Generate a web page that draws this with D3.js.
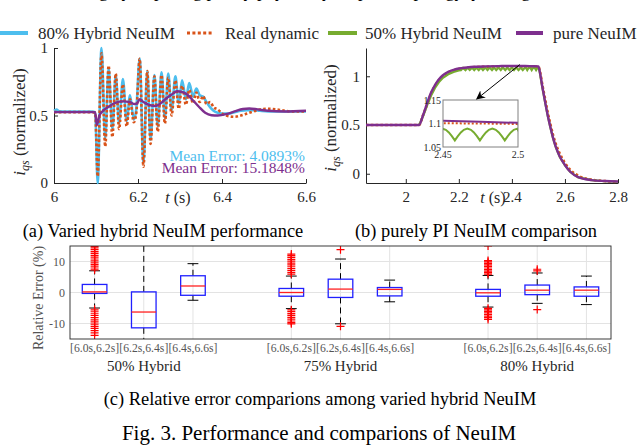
<!DOCTYPE html>
<html>
<head>
<meta charset="utf-8">
<script src="https://cdn.jsdelivr.net/npm/d3@7"></script>
<style>
body { margin: 0; background: #fff; }
svg { display: block; }
</style>
</head>
<body>
<script>
// ---- data ----
var seriesNames = ["80% Hybrid NeuIM", "Real dynamic", "50% Hybrid NeuIM", "pure NeuIM"];
var seriesColors = ["#4DBEEE", "#D95319", "#77AC30", "#7E2F8E"];

// (a) varied hybrid NeuIM, t in s
var tA = [6.000, 6.006, 6.012, 6.030, 6.060, 6.090, 6.098,
  6.104, 6.113, 6.122, 6.130, 6.139, 6.147, 6.155, 6.164, 6.173, 6.181,
  6.190, 6.196, 6.204, 6.213, 6.222, 6.230, 6.239, 6.247, 6.256, 6.264,
  6.272, 6.280, 6.289, 6.297, 6.305, 6.314, 6.322, 6.331, 6.339, 6.347,
  6.355, 6.363, 6.372, 6.380, 6.390, 6.400, 6.415, 6.430, 6.445, 6.460,
  6.475, 6.490, 6.510, 6.530, 6.550, 6.570, 6.600];
var hybrid80A = [0.535, 0.545, 0.532, 0.53, 0.53, 0.53, 0.525,
  0.0, 1.0, 0.33, 0.85, 0.40, 0.80, 0.44, 0.77, 0.46, 0.65,
  0.47, 0.55, 0.92, 0.15, 0.83, 0.32, 0.80, 0.42, 0.82, 0.48,
  0.81, 0.54, 0.79, 0.59, 0.76, 0.62, 0.74, 0.64, 0.70, 0.65,
  0.64, 0.60, 0.56, 0.535, 0.52, 0.515, 0.515, 0.525, 0.535, 0.54,
  0.54, 0.535, 0.53, 0.53, 0.53, 0.53, 0.53];
var realA = [0.525, 0.525, 0.525, 0.525, 0.525, 0.525, 0.52,
  0.05, 0.96, 0.27, 0.87, 0.34, 0.81, 0.40, 0.73, 0.42, 0.62,
  0.45, 0.52, 0.92, 0.12, 0.83, 0.29, 0.79, 0.38, 0.80, 0.44,
  0.78, 0.50, 0.76, 0.55, 0.72, 0.58, 0.69, 0.59, 0.67, 0.60,
  0.645, 0.585, 0.60, 0.56, 0.545, 0.515, 0.495, 0.49, 0.50, 0.515,
  0.53, 0.545, 0.55, 0.545, 0.535, 0.53, 0.53];
var tPureA = [6.000, 6.098, 6.102, 6.108, 6.115, 6.130, 6.147, 6.165, 6.180, 6.192,
  6.198, 6.204, 6.213, 6.225, 6.240, 6.252, 6.265, 6.280, 6.293, 6.305,
  6.317, 6.330, 6.345, 6.360, 6.375, 6.390, 6.410, 6.430, 6.450, 6.465,
  6.485, 6.510, 6.550, 6.600];
var pureA = [0.525, 0.525, 0.43, 0.50, 0.53, 0.565, 0.595, 0.605, 0.60, 0.585,
  0.59, 0.62, 0.60, 0.58, 0.57, 0.585, 0.62, 0.655, 0.68, 0.675,
  0.655, 0.615, 0.565, 0.52, 0.502, 0.50, 0.51, 0.53, 0.548, 0.552,
  0.545, 0.535, 0.53, 0.535];
var meanErrors = ["Mean Error: 4.0893%", "Mean Error: 15.1848%"];

// (b) purely PI NeuIM comparison
var tB = [1.85, 2.05, 2.065, 2.08, 2.095, 2.11, 2.125, 2.14, 2.16, 2.18,
  2.20, 2.23, 2.26, 2.30, 2.35, 2.40, 2.45, 2.475, 2.50, 2.505,
  2.515, 2.525, 2.535, 2.545, 2.555, 2.565, 2.58, 2.60, 2.62, 2.65,
  2.70, 2.75, 2.80];
var pureB = [0.5, 0.5, 0.6, 0.72, 0.83, 0.91, 0.97, 1.01, 1.045, 1.065,
  1.08, 1.09, 1.097, 1.101, 1.104, 1.106, 1.1056, 1.1035, 1.1014, 1.05,
  0.89, 0.74, 0.60, 0.48, 0.37, 0.28, 0.18, 0.09, 0.02, -0.035,
  -0.065, -0.075, -0.08];
var realB = [0.5, 0.5, 0.6, 0.71, 0.82, 0.90, 0.96, 1.0, 1.04, 1.06,
  1.075, 1.087, 1.094, 1.098, 1.1, 1.101, 1.1005, 1.1, 1.099, 1.06,
  0.91, 0.77, 0.63, 0.51, 0.40, 0.31, 0.21, 0.11, 0.04, -0.02,
  -0.06, -0.075, -0.085];
var tHybrid50B = [1.85, 2.05, 2.065, 2.08, 2.095, 2.11, 2.125, 2.14, 2.16, 2.18, 2.20,
  2.208, 2.216, 2.225, 2.233, 2.241, 2.250, 2.258, 2.266, 2.275, 2.283,
  2.291, 2.300, 2.308, 2.316, 2.325, 2.333, 2.341, 2.350, 2.358, 2.366,
  2.375, 2.383, 2.391, 2.400, 2.408, 2.416, 2.425, 2.433, 2.441,
  2.4496, 2.4519, 2.4539, 2.4559, 2.4579, 2.4599, 2.4619, 2.4639,
  2.4662, 2.4686, 2.4706, 2.4726, 2.4746, 2.4766, 2.4786, 2.4806,
  2.4829, 2.4852, 2.4872, 2.4892, 2.4912, 2.4932, 2.4952, 2.4972,
  2.4995, 2.502, 2.505, 2.515, 2.525, 2.535, 2.545, 2.555, 2.565,
  2.58, 2.60, 2.62, 2.65, 2.70, 2.75, 2.80];
var hybrid50B = [0.5, 0.5, 0.59, 0.70, 0.80, 0.88, 0.94, 0.985, 1.02, 1.045, 1.06,
  1.062, 1.086, 1.063, 1.087, 1.064, 1.088, 1.064, 1.088, 1.064, 1.089,
  1.064, 1.089, 1.064, 1.089, 1.064, 1.089, 1.064, 1.089, 1.064, 1.089,
  1.064, 1.089, 1.064, 1.089, 1.064, 1.089, 1.064, 1.089, 1.064,
  1.089, 1.0866, 1.081, 1.073, 1.064, 1.073, 1.081, 1.0866,
  1.089, 1.0866, 1.081, 1.073, 1.064, 1.073, 1.081, 1.0866,
  1.089, 1.0866, 1.081, 1.073, 1.064, 1.073, 1.081, 1.0866,
  1.089, 1.075, 1.04, 0.88, 0.735, 0.595, 0.475, 0.365, 0.275,
  0.175, 0.085, 0.018, -0.037, -0.066, -0.077, -0.082];

// (c) relative error box plots (%)
var boxGroups = ["50% Hybrid", "75% Hybrid", "80% Hybrid"];
var boxTicks = ["[6.0s,6.2s]", "[6.2s,6.4s]", "[6.4s,6.6s]"];
var boxPos = [1, 2, 3, 5, 6, 7, 9, 10, 11];
var boxQ1 = [-0.3, -11.4, -0.9, -1.2, -1.6, -1.1, -1.2, -0.7, -1.2];
var boxMed = [0.2, -6.3, 2.1, 0.0, 1.1, 1.0, -0.1, 0.75, 0.75];
var boxQ3 = [2.6, 0.2, 5.4, 1.3, 4.3, 1.6, 1.0, 2.4, 1.8];
var whiskLo = [-5.0, -20, -2.5, -5.2, -10.1, -3.0, -4.7, -3.5, -3.9];
var whiskHi = [7.0, 20, 9.3, 5.3, 10.8, 4.0, 5.5, 6.3, 5.3];
var outliers = [
  [7.3, 7.9, 8.5, 9.1, 9.6, 10.2, 10.8, 11.4, 12.0, 12.6, 13.2, 13.8, 14.4, 14.9,
   -5.4, -6.0, -6.7, -7.4, -8.1, -8.8, -9.5, -10.2, -10.9, -11.6, -12.3, -13.0, -13.8],
  [],
  [],
  [5.9, 6.5, 7.1, 7.7, 8.3, 8.9, 9.5, 10.1, 10.7, 11.3, 11.9, 12.4,
   -5.6, -6.2, -6.8, -7.4, -8.0, -8.6, -9.2, -9.7, -10.1],
  [13.8, -10.9],
  [],
  [5.9, 6.4, 6.9, 7.4, 7.9, 8.4, 8.9, 9.4, 9.9, 10.3, 15.0,
   -5.1, -5.6, -6.1, -6.6, -7.1, -7.6, -8.1, -8.7],
  [7.0, 7.5, -5.5],
  []
];

// ---- setup ----
var serif = "'Liberation Serif', 'Times New Roman', serif";
var axisColor = "#262626";

var svg = d3.select("body").append("svg")
    .attr("width", 640)
    .attr("height", 448)
    .style("font-family", serif);

// cut-off body text line above the figure (only descenders show)
svg.append("text")
    .attr("x", 52).attr("y", -3)
    .attr("font-size", 18)
    .text("training by imposing purely physically-inspired topology, yielding");

function styleAxis(g, size) {
    g.attr("font-family", serif).attr("font-size", size);
    g.select(".domain").attr("stroke", axisColor);
    g.selectAll(".tick line").attr("stroke", axisColor);
    g.selectAll(".tick text").attr("fill", axisColor);
}

function ylabel(x, y) {
    var t = svg.append("text")
        .attr("transform", "translate(" + x + "," + y + ")rotate(-90)")
        .attr("text-anchor", "middle")
        .attr("font-size", 17)
        .attr("fill", axisColor);
    t.append("tspan").attr("font-style", "italic").text("i");
    t.append("tspan").attr("font-style", "italic").attr("font-size", 12).attr("dy", 4).text("qs");
    t.append("tspan").attr("dy", -4).text(" (normalized)");
}

function tlabel(x, y) {
    var t = svg.append("text")
        .attr("x", x).attr("y", y)
        .attr("text-anchor", "middle")
        .attr("font-size", 16)
        .attr("fill", axisColor);
    t.append("tspan").attr("font-style", "italic").text("t");
    t.append("tspan").text(" (s)");
}

// ---- legend ----
var legendLine = [[0, 28], [187, 213], [328, 357], [516, 543]];
var legendText = [38, 225, 365, 553];
seriesNames.forEach(function (name, i) {
    svg.append("line")
        .attr("x1", legendLine[i][0]).attr("x2", legendLine[i][1])
        .attr("y1", 33).attr("y2", 33)
        .attr("stroke", seriesColors[i])
        .attr("stroke-width", i == 1 ? 3 : 4)
        .attr("stroke-dasharray", i == 1 ? "3,2.4" : null);
    svg.append("text")
        .attr("x", legendText[i]).attr("y", 38.5)
        .attr("font-size", 17)
        .attr("fill", axisColor)
        .text(name);
});

// ---- (a) ----
var xA = d3.scaleLinear().domain([6, 6.6]).range([54, 306]);
var yA = d3.scaleLinear().domain([0, 1]).range([183, 48]);

var lineA = d3.line()
    .x(function (d) { return xA(d[0]); })
    .y(function (d) { return yA(d[1]); })
    .curve(d3.curveMonotoneX);

svg.append("g")
    .attr("transform", "translate(0,183)")
    .call(d3.axisBottom(xA).tickValues([6, 6.2, 6.4, 6.6]).tickSizeInner(-4).tickSizeOuter(0)
        .tickPadding(8).tickFormat(String))
    .call(styleAxis, 15);
svg.append("g")
    .attr("transform", "translate(54,0)")
    .call(d3.axisLeft(yA).tickValues([0, 0.5, 1]).tickSizeInner(-4).tickSizeOuter(0)
        .tickPadding(6).tickFormat(String))
    .call(styleAxis, 15);

svg.append("path")
    .datum(d3.zip(tA, hybrid80A))
    .attr("d", lineA)
    .attr("fill", "none")
    .attr("stroke", seriesColors[0])
    .attr("stroke-width", 2.6);
svg.append("path")
    .datum(d3.zip(tA, realA))
    .attr("d", lineA)
    .attr("fill", "none")
    .attr("stroke", seriesColors[1])
    .attr("stroke-width", 2.6)
    .attr("stroke-dasharray", "2.6,2.2");
svg.append("path")
    .datum(d3.zip(tPureA, pureA))
    .attr("d", lineA)
    .attr("fill", "none")
    .attr("stroke", seriesColors[3])
    .attr("stroke-width", 2.4);

svg.append("text")
    .attr("x", 305).attr("y", 160.5)
    .attr("text-anchor", "end")
    .attr("font-size", 15.5)
    .attr("fill", seriesColors[0])
    .text(meanErrors[0]);
svg.append("text")
    .attr("x", 305).attr("y", 172.5)
    .attr("text-anchor", "end")
    .attr("font-size", 15.5)
    .attr("fill", seriesColors[3])
    .text(meanErrors[1]);

ylabel(25, 122);
tlabel(178, 203);

// ---- (b) ----
var xB = d3.scaleLinear().domain([1.85, 2.8]).range([366, 618]);
var yB = d3.scaleLinear().domain([-0.095, 1.29]).range([183, 48]);

var lineB = d3.line()
    .x(function (d) { return xB(d[0]); })
    .y(function (d) { return yB(d[1]); })
    .curve(d3.curveMonotoneX);
var lineBlin = d3.line()
    .x(function (d) { return xB(d[0]); })
    .y(function (d) { return yB(d[1]); });

svg.append("g")
    .attr("transform", "translate(0,183)")
    .call(d3.axisBottom(xB).tickValues([2, 2.2, 2.4, 2.6, 2.8]).tickSizeInner(-4).tickSizeOuter(0)
        .tickPadding(8).tickFormat(String))
    .call(styleAxis, 15);
svg.append("g")
    .attr("transform", "translate(366,0)")
    .call(d3.axisLeft(yB).tickValues([0, 0.5, 1]).tickSizeInner(-4).tickSizeOuter(0)
        .tickPadding(6).tickFormat(String))
    .call(styleAxis, 15);

svg.append("path")
    .datum(d3.zip(tB, realB))
    .attr("d", lineB)
    .attr("fill", "none")
    .attr("stroke", seriesColors[1])
    .attr("stroke-width", 2.6)
    .attr("stroke-dasharray", "2.6,2.2");
svg.append("path")
    .datum(d3.zip(tHybrid50B, hybrid50B))
    .attr("d", lineBlin)
    .attr("fill", "none")
    .attr("stroke", seriesColors[2])
    .attr("stroke-width", 2.2);
svg.append("path")
    .datum(d3.zip(tB, pureB))
    .attr("d", lineB)
    .attr("fill", "none")
    .attr("stroke", seriesColors[3])
    .attr("stroke-width", 2.4);

ylabel(336, 118);
tlabel(493, 203);

// inset zoom of (b)
var xI = d3.scaleLinear().domain([2.45, 2.5]).range([443, 518]);
var yI = d3.scaleLinear().domain([1.05, 1.15]).range([147, 100]);

svg.append("defs").append("clipPath").attr("id", "clipInset")
    .append("rect")
    .attr("x", xI(2.45)).attr("y", yI(1.15))
    .attr("width", xI(2.5) - xI(2.45)).attr("height", yI(1.05) - yI(1.15));

svg.append("rect")
    .attr("x", xI(2.45)).attr("y", yI(1.15))
    .attr("width", xI(2.5) - xI(2.45)).attr("height", yI(1.05) - yI(1.15))
    .attr("fill", "#fff");

var lineI = d3.line()
    .x(function (d) { return xI(d[0]); })
    .y(function (d) { return yI(d[1]); });

var inset = svg.append("g").attr("clip-path", "url(#clipInset)");
inset.append("path")
    .datum(d3.zip(tB, realB))
    .attr("d", lineI)
    .attr("fill", "none")
    .attr("stroke", seriesColors[1])
    .attr("stroke-width", 2)
    .attr("stroke-dasharray", "2,2");
inset.append("path")
    .datum(d3.zip(tHybrid50B, hybrid50B))
    .attr("d", lineI)
    .attr("fill", "none")
    .attr("stroke", seriesColors[2])
    .attr("stroke-width", 2);
inset.append("path")
    .datum(d3.zip(tB, pureB))
    .attr("d", lineI)
    .attr("fill", "none")
    .attr("stroke", seriesColors[3])
    .attr("stroke-width", 2);

svg.append("rect")
    .attr("x", xI(2.45)).attr("y", yI(1.15))
    .attr("width", xI(2.5) - xI(2.45)).attr("height", yI(1.05) - yI(1.15))
    .attr("fill", "none")
    .attr("stroke", "#808080")
    .attr("stroke-width", 1);

[1.05, 1.1, 1.15].forEach(function (v) {
    svg.append("text")
        .attr("x", xI(2.45) - 2).attr("y", yI(v) + 3.5)
        .attr("text-anchor", "end")
        .attr("font-size", 10)
        .attr("fill", axisColor)
        .text(String(v));
});
[2.45, 2.5].forEach(function (v) {
    svg.append("text")
        .attr("x", xI(v)).attr("y", yI(1.05) + 11)
        .attr("text-anchor", "middle")
        .attr("font-size", 10)
        .attr("fill", axisColor)
        .text(String(v));
});

// arrow from the plateau to the inset
svg.append("defs").append("marker")
    .attr("id", "arrowHead")
    .attr("viewBox", "0 0 10 10")
    .attr("refX", 9).attr("refY", 5)
    .attr("markerWidth", 9).attr("markerHeight", 9)
    .attr("orient", "auto")
    .append("path")
    .attr("d", "M0,0L10,5L0,10L3,5Z")
    .attr("fill", "#000");
svg.append("line")
    .attr("x1", xB(2.43)).attr("y1", yB(1.12))
    .attr("x2", xI(2.4725)).attr("y2", yI(1.15) - 1)
    .attr("stroke", "#000")
    .attr("stroke-width", 1)
    .attr("marker-end", "url(#arrowHead)");

// ---- captions (a) (b) ----
svg.append("text")
    .attr("x", 163).attr("y", 237)
    .attr("text-anchor", "middle")
    .attr("font-size", 18.4)
    .text("(a) Varied hybrid NeuIM performance");
svg.append("text")
    .attr("x", 476).attr("y", 237)
    .attr("text-anchor", "middle")
    .attr("font-size", 18.4)
    .text("(b) purely PI NeuIM comparison");

// ---- (c) box plot ----
var xC = d3.scaleLinear().domain([0.5, 11.5]).range([70, 611]);
var yC = d3.scaleLinear().domain([-15, 15]).range([339, 246]);
var bw = xC(1.25) - xC(0.75);

svg.append("defs").append("clipPath").attr("id", "clipBox")
    .append("rect")
    .attr("x", xC(0.5)).attr("y", yC(15))
    .attr("width", xC(11.5) - xC(0.5)).attr("height", yC(-15) - yC(15));

var gridC = svg.append("g");
boxPos.forEach(function (p) {
    gridC.append("line")
        .attr("x1", xC(p)).attr("x2", xC(p))
        .attr("y1", yC(15)).attr("y2", yC(-15))
        .attr("stroke", "#e3e3e3").attr("stroke-width", 1);
});
[-10, 0, 10].forEach(function (v) {
    gridC.append("line")
        .attr("x1", xC(0.5)).attr("x2", xC(11.5))
        .attr("y1", yC(v)).attr("y2", yC(v))
        .attr("stroke", "#e3e3e3").attr("stroke-width", 1);
});

var boxes = svg.append("g").attr("clip-path", "url(#clipBox)");
boxPos.forEach(function (p, i) {
    var cx = xC(p);
    // whiskers
    boxes.append("line")
        .attr("x1", cx).attr("x2", cx)
        .attr("y1", yC(boxQ3[i])).attr("y2", yC(whiskHi[i]))
        .attr("stroke", "#000").attr("stroke-width", 1)
        .attr("stroke-dasharray", "6,4");
    boxes.append("line")
        .attr("x1", cx).attr("x2", cx)
        .attr("y1", yC(boxQ1[i])).attr("y2", yC(whiskLo[i]))
        .attr("stroke", "#000").attr("stroke-width", 1)
        .attr("stroke-dasharray", "6,4");
    [whiskLo[i], whiskHi[i]].forEach(function (w) {
        boxes.append("line")
            .attr("x1", cx - bw * 0.22).attr("x2", cx + bw * 0.22)
            .attr("y1", yC(w)).attr("y2", yC(w))
            .attr("stroke", "#000").attr("stroke-width", 1);
    });
    // box
    boxes.append("rect")
        .attr("x", cx - bw / 2).attr("y", yC(boxQ3[i]))
        .attr("width", bw).attr("height", yC(boxQ1[i]) - yC(boxQ3[i]))
        .attr("fill", "none")
        .attr("stroke", "#2020ff").attr("stroke-width", 1.3);
    boxes.append("line")
        .attr("x1", cx - bw / 2).attr("x2", cx + bw / 2)
        .attr("y1", yC(boxMed[i])).attr("y2", yC(boxMed[i]))
        .attr("stroke", "#ff2020").attr("stroke-width", 1.3);
    // outliers
    outliers[i].forEach(function (o) {
        boxes.append("path")
            .attr("d", "M" + (cx - 4) + "," + yC(o) + "h8M" + cx + "," + (yC(o) - 4) + "v8")
            .attr("stroke", "#ff0000").attr("stroke-width", 1.2);
    });
});

svg.append("rect")
    .attr("x", xC(0.5)).attr("y", yC(15))
    .attr("width", xC(11.5) - xC(0.5)).attr("height", yC(-15) - yC(15))
    .attr("fill", "none")
    .attr("stroke", axisColor).attr("stroke-width", 0.9);

[-10, 0, 10].forEach(function (v) {
    svg.append("text")
        .attr("x", xC(0.5) - 5).attr("y", yC(v) + 4)
        .attr("text-anchor", "end")
        .attr("font-size", 12)
        .attr("fill", "#555")
        .text(String(v));
});
boxPos.forEach(function (p, i) {
    svg.append("text")
        .attr("x", xC(p)).attr("y", 352)
        .attr("text-anchor", "middle")
        .attr("font-size", 11.7)
        .attr("fill", "#555")
        .text(boxTicks[i % 3]);
});
boxGroups.forEach(function (g, j) {
    svg.append("text")
        .attr("x", xC(boxPos[j * 3 + 1])).attr("y", 370.5)
        .attr("text-anchor", "middle")
        .attr("font-size", 15)
        .attr("fill", axisColor)
        .text(g);
});
svg.append("text")
    .attr("transform", "translate(43,298)rotate(-90)")
    .attr("text-anchor", "middle")
    .attr("font-size", 14)
    .attr("fill", "#555")
    .text("Relative Error (%)");

// ---- captions (c) and figure ----
svg.append("text")
    .attr("x", 320).attr("y", 405)
    .attr("text-anchor", "middle")
    .attr("font-size", 18.4)
    .text("(c) Relative error comparions among varied hybrid NeuIM");
svg.append("text")
    .attr("x", 319).attr("y", 440)
    .attr("text-anchor", "middle")
    .attr("font-size", 21)
    .text("Fig. 3. Performance and comparions of NeuIM");
</script>
</body>
</html>
